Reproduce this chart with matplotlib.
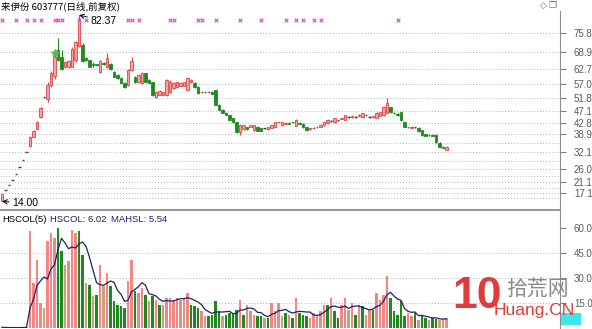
import numpy as np
import pandas as pd
import matplotlib
matplotlib.use("Agg")
import matplotlib.pyplot as plt
from matplotlib.patches import Rectangle

plt.rcParams['font.family'] = ['Liberation Sans', 'Noto Sans CJK SC', 'DejaVu Sans']

# daily candles (open, close, high, low)
opens = [14.0, 18.2, 20.0, 22.0, 24.2, 26.6, 29.3, 32.2, 34.2, 37.8, 40.5, 45.0, 52.5, 51.5, 56.7, 60.0,
         69.6, 67.0, 63.3, 63.5, 63.5, 66.0, 71.0, 71.4, 66.5, 65.9, 64.5, 64.3, 61.5, 64.8, 63.3, 64.5,
         61.5, 60.3, 59.3, 57.5, 56.7, 62.2, 59.7, 57.8, 57.5, 61.0, 58.5, 57.8, 52.5, 53.2, 53.2, 53.0,
         54.0, 55.5, 56.0, 56.5, 56.5, 55.0, 57.8, 57.5, 56.0, 54.0, 54.3, 54.0, 54.3, 54.9, 49.4, 47.6,
         46.5, 45.7, 44.5, 43.1, 39.5, 40.5, 41.3, 41.5, 40.2, 41.4, 40.8, 40.8, 40.5, 41.0, 41.5, 43.0,
         42.0, 42.6, 42.8, 43.1, 41.8, 42.8, 42.6, 41.3, 40.5, 40.8, 41.3, 41.5, 42.0, 42.8, 43.5, 43.0,
         43.8, 44.3, 44.0, 45.0, 45.0, 45.0, 45.5, 45.0, 45.8, 45.0, 45.0, 44.8, 45.5, 45.7, 46.5, 48.5,
         46.5, 46.2, 46.8, 43.1, 41.3, 41.0, 41.3, 41.0, 40.2, 38.6, 38.4, 38.4, 38.4, 35.5, 34.0, 33.0]
closes = [16.6, 18.2, 20.0, 22.0, 24.2, 26.6, 29.3, 32.2, 37.6, 39.8, 43.2, 48.3, 52.5, 56.7, 61.1, 67.0,
          65.9, 62.5, 65.2, 65.5, 70.0, 72.5, 81.0, 65.5, 65.9, 63.5, 64.0, 64.0, 65.5, 64.5, 66.5, 62.5,
          59.8, 59.3, 57.5, 56.0, 62.2, 65.5, 57.8, 60.4, 61.1, 58.0, 57.5, 53.0, 54.0, 54.5, 54.0, 58.6,
          58.0, 57.5, 57.8, 57.5, 57.8, 59.3, 58.5, 56.0, 53.8, 54.3, 54.0, 54.2, 53.5, 49.5, 47.6, 46.5,
          45.8, 44.0, 43.1, 39.5, 42.0, 42.0, 40.5, 42.0, 42.0, 40.0, 40.0, 40.8, 41.3, 42.0, 43.0, 43.1,
          43.1, 42.8, 42.6, 43.0, 43.9, 42.6, 41.3, 40.2, 40.8, 41.0, 41.5, 42.2, 43.0, 44.0, 43.5, 44.6,
          43.8, 44.5, 45.7, 45.0, 45.2, 45.0, 45.8, 46.3, 45.7, 45.0, 45.2, 46.5, 46.8, 48.7, 50.0, 46.8,
          46.3, 45.7, 43.9, 41.4, 41.2, 41.5, 41.3, 39.8, 38.4, 38.2, 38.3, 38.2, 35.8, 34.0, 33.7, 34.0]
highs = [16.8, 18.2, 20.0, 22.0, 24.2, 26.6, 29.3, 32.2, 37.9, 40.2, 43.6, 48.5, 52.5, 57.8, 62.0, 68.0,
         74.0, 69.6, 65.5, 66.0, 70.5, 73.0, 82.37, 72.0, 67.0, 66.0, 65.0, 64.6, 66.0, 65.2, 68.5, 64.8,
         61.8, 60.6, 59.5, 57.8, 62.5, 67.0, 60.0, 60.8, 61.5, 61.3, 58.8, 58.0, 54.5, 54.8, 54.3, 59.0,
         58.4, 57.8, 58.0, 57.8, 58.0, 59.5, 58.8, 57.8, 56.2, 54.6, 54.5, 54.4, 54.6, 55.0, 49.6, 47.8,
         46.7, 45.9, 44.7, 43.3, 42.2, 42.2, 41.5, 42.2, 42.2, 41.6, 41.0, 41.0, 41.5, 42.2, 43.2, 43.3,
         43.3, 43.0, 43.0, 43.3, 44.1, 43.0, 42.8, 41.5, 41.0, 41.2, 41.7, 42.4, 43.2, 44.2, 43.8, 44.8,
         44.0, 44.7, 45.9, 45.3, 45.4, 45.2, 46.0, 46.5, 46.0, 45.2, 45.4, 46.7, 47.0, 48.9, 52.0, 48.7,
         46.7, 46.4, 47.0, 43.3, 41.5, 41.7, 41.5, 41.2, 40.4, 38.8, 38.6, 38.6, 38.6, 35.7, 34.2, 34.2]
lows = [14.0, 18.2, 20.0, 22.0, 24.2, 26.6, 29.3, 32.2, 34.0, 37.5, 40.3, 44.8, 52.5, 50.5, 56.0, 59.0,
        65.5, 62.2, 63.0, 63.0, 63.3, 65.2, 70.5, 65.2, 65.5, 63.3, 63.5, 63.8, 61.0, 64.2, 63.0, 62.2,
        59.6, 59.0, 57.3, 55.6, 56.3, 62.0, 57.5, 57.5, 57.2, 57.8, 57.2, 52.8, 52.0, 53.0, 53.0, 52.8,
        53.8, 55.2, 55.8, 56.2, 56.3, 54.9, 57.5, 55.8, 53.5, 53.8, 53.8, 53.8, 53.3, 49.3, 47.4, 46.3,
        45.6, 43.8, 42.9, 39.3, 38.4, 40.3, 40.3, 41.3, 40.0, 39.8, 39.8, 40.6, 40.3, 40.8, 41.3, 42.8,
        41.8, 42.4, 42.4, 42.8, 41.6, 42.4, 41.1, 40.0, 40.3, 40.6, 41.1, 41.3, 41.8, 42.6, 43.2, 42.8,
        43.6, 44.1, 43.8, 44.8, 44.8, 44.8, 45.3, 44.8, 45.5, 44.8, 44.8, 44.6, 45.3, 45.5, 46.3, 46.6,
        46.1, 45.5, 43.7, 41.2, 41.0, 40.8, 41.1, 39.6, 38.2, 38.0, 38.1, 38.0, 35.6, 33.8, 33.5, 32.8]

# turnover (HSCOL) and bar colour codes: r = red, g = green, t = tan
hscol = [0.4, 0.2, 0.2, 0.2, 0.3, 0.3, 0.4, 0.6,
         58, 27, 41, 15, 12, 52, 57, 54, 60, 46, 38, 40, 59, 57, 58, 44, 27, 26, 19, 20,
         38, 25, 33, 25, 16, 14, 13, 12, 28, 41, 22, 21, 24, 20, 16, 19, 17, 14, 14, 18,
         18, 17, 18, 17, 18, 21, 14, 13, 12, 10, 7, 7, 8, 16, 10, 7, 8, 9, 9, 11,
         17, 8, 14, 10, 8, 7, 7, 6, 6, 15, 10, 15, 7, 9, 8, 6, 18, 9, 8, 7,
         6, 9, 8, 10, 14, 14, 18, 10, 6, 14, 18, 11, 15, 8, 14, 13, 8, 11, 11, 21,
         17, 20, 31, 18, 10, 8, 16, 7, 9, 7, 9, 5, 8, 6, 5, 6, 5.5, 5, 5.2, 6.02]
hscol_codes = ("rrrrrrrr" "rrrrt" "rrrgg" "trrrg" "gtgtg" "rtrgg" "gggrr" "grrgt" "grgrr"
               "rrrrt" "rgggr" "tgggg" "tgggg" "rgrrr" "ggtgr" "rrtgr" "grggg" "trrrr"
               "grggr" "rtrgr" "gtrgr" "rrrgg" "gggrr" "grggr" "ggtrr")

signal_days = [0, 4, 7, 9, 11, 15, 16, 17, 22, 24, 36, 37, 39, 48, 49, 56, 57, 61,
               68, 74, 81, 84, 86, 89, 91, 113]

price_ticks = [75.8, 68.9, 62.7, 57.0, 51.8, 47.1, 42.8, 38.9, 32.1, 26.0, 21.1, 17.1]
price_grid = price_ticks + [35.4, 29.0, 23.5, 19.0, 15.4]
vol_ticks = [60.0, 45.0, 30.0, 15.0]

W, H = 592, 329
fig = plt.figure(figsize=(W / 100, H / 100), dpi=100)
fig.patch.set_facecolor("white")

ax = fig.add_axes([0, 1 - 209 / H, 560 / W, 198 / H])
ax2 = fig.add_axes([0, 1 / H, 560 / W, 118 / H])

x = np.arange(len(opens))
up_face, up_edge = "#f4a2a2", "#e04444"
dn_col = "#1e8a1e"

for i in x:
    o, c, h, l = opens[i], closes[i], highs[i], lows[i]
    if o == c:
        col = "#444444"
        ax.vlines(i, l, h, color=col, lw=0.8)
        ax.hlines(o, i - 0.4, i + 0.4, color=col, lw=1.0)
    elif c > o:
        ax.vlines(i, l, h, color=up_edge, lw=0.8, zorder=2)
        ax.bar(i, c - o, bottom=o, width=0.8, facecolor=up_face, edgecolor=up_edge, lw=0.6, zorder=3)
    else:
        ax.vlines(i, l, h, color=dn_col, lw=0.8, zorder=2)
        ax.bar(i, c - o, bottom=o, width=0.8, facecolor=dn_col, edgecolor=dn_col, lw=0.6, zorder=3)

for g in price_grid:
    ax.axhline(g, color="#b4b4b4", lw=0.7, ls=(0, (1, 2)), zorder=0)

ax.scatter(signal_days, [0.955] * len(signal_days), transform=ax.get_xaxis_transform(),
           marker="x", s=7, lw=0.9, color="#d65ad6", zorder=4)
ax.scatter([15], [0.79], transform=ax.get_xaxis_transform(), marker=(5, 1, 0), s=30,
           color="#4cc24c", zorder=5)

imax = int(np.argmax(highs))
imin = int(np.argmin(lows))
ax.annotate(f"{highs[imax]:.2f}", xy=(imax, highs[imax]), xytext=(8, -4), textcoords="offset points",
            fontsize=7.5, va="center", ha="left",
            arrowprops=dict(arrowstyle="->", color="black", lw=0.7, shrinkA=0, shrinkB=0))
ax.annotate(f"{lows[imin]:.2f}", xy=(imin, lows[imin]), xytext=(7, -1), textcoords="offset points",
            fontsize=7.5, va="center", ha="left",
            arrowprops=dict(arrowstyle="->", color="black", lw=0.7, shrinkA=0, shrinkB=0))

ax.set_xlim(-2 / 3.5, 558 / 3.5)
ax.set_ylim(11.24, 83.87)
ax.yaxis.tick_right()
ax.set_yticks(price_ticks)
ax.set_yticklabels([f"{t:.1f}" for t in price_ticks])
ax.set_xticks([])
ax.tick_params(axis="y", direction="out", length=4, width=0.8, color="#808080",
               labelcolor="#5a5a5a", labelsize=7, pad=6)
for s in ["left", "top", "bottom"]:
    ax.spines[s].set_visible(False)
ax.spines["right"].set_color("#8c8c8c")

# turnover panel
cmap = {"r": "#f28585", "g": "#1e8a1e", "t": "#c9a27c"}
ax2.bar(x, hscol, width=0.75, color=[cmap[c] for c in hscol_codes], zorder=2)
mahsl = pd.Series(hscol).rolling(5, min_periods=1).mean()
ax2.plot(x, mahsl, color="#22225e", lw=0.9, zorder=3)
for g in vol_ticks[1:]:
    ax2.axhline(g, color="#b4b4b4", lw=0.7, ls=(0, (1, 2)), zorder=0)
ax2.set_xlim(-2 / 3.5, 558 / 3.5)
ax2.set_ylim(0, 70.8)
ax2.yaxis.tick_right()
ax2.set_yticks(vol_ticks)
ax2.set_yticklabels([f"{t:.1f}" for t in vol_ticks])
ax2.set_xticks([])
ax2.tick_params(axis="y", direction="out", length=4, width=0.8, color="#808080",
                labelcolor="#5a5a5a", labelsize=7, pad=6)
for s in ["left", "bottom"]:
    ax2.spines[s].set_visible(False)
ax2.spines["right"].set_color("#8c8c8c")
ax2.spines["top"].set_color("#9a9a9a")
ax2.spines["top"].set_linewidth(1.5)

# headers
fig.text(1 / W, 1 - 6 / H, "来伊份 603777(日线,前复权)", fontsize=6.8, va="center", ha="left",
         family=["Noto Sans CJK SC", "DejaVu Sans"], color="black")
fig.text(2 / W, 1 - 219 / H, "HSCOL(5)", fontsize=6.8, va="center", color="black")
fig.text(50 / W, 1 - 219 / H, f"HSCOL: {hscol[-1]:.2f}", fontsize=6.8, va="center", color="#20205a")
fig.text(111 / W, 1 - 219 / H, f"MAHSL: {mahsl.iloc[-1]:.2f}", fontsize=6.8, va="center", color="#1e1e7a")
fig.text(543 / W, 1 - 5 / H, "◇", fontsize=6.5, va="center", ha="center", color="#707070",
         family=["DejaVu Sans"])
fig.text(553 / W, 1 - 5 / H, "❐", fontsize=6.5, va="center", ha="center", color="#707070",
         family=["DejaVu Sans"])

# small cyan value box at the bottom of the right axis
fig.patches.append(Rectangle((561 / W, 4 / H), 20 / W, 12 / H, transform=fig.transFigure,
                             facecolor="#3ee6e6", edgecolor="none"))

# watermark
fig.text(452 / W, 1 - 297 / H, "10", fontsize=32, fontweight="bold", color="#e03c3c",
         va="center", ha="left")
fig.text(506 / W, 1 - 289 / H, "拾荒网", fontsize=15, color="#8a8a8a", va="center", ha="left",
         family=["Noto Sans CJK SC"])
fig.text(494 / W, 1 - 311 / H, "Huang.CN", fontsize=12.5, color="#e03c3c", va="center", ha="left")

fig.savefig("out.png", dpi=100)
